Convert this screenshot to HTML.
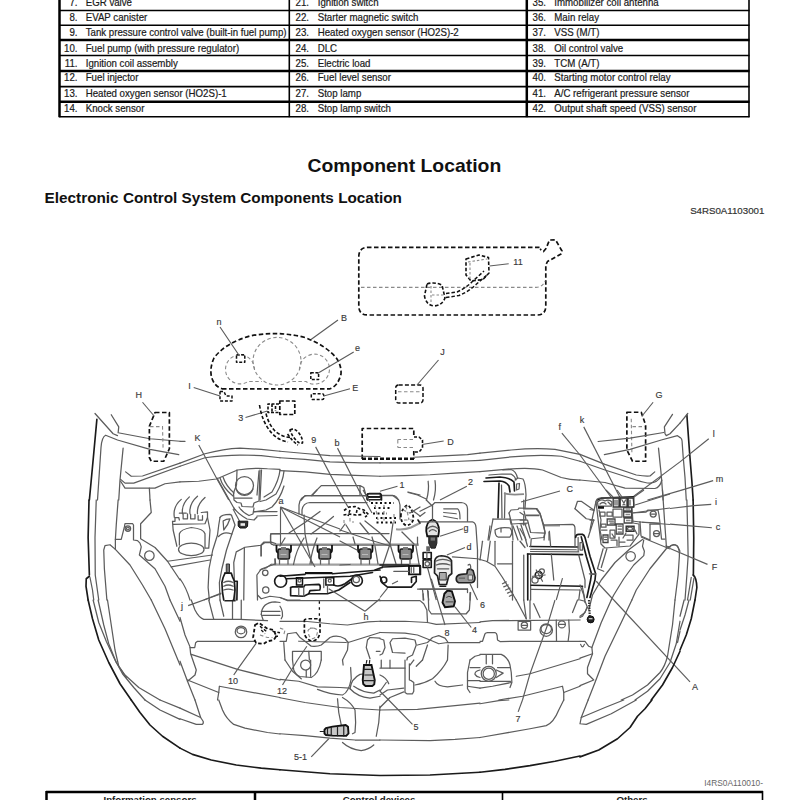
<!DOCTYPE html>
<html lang="en">
<head>
<meta charset="utf-8">
<title>Component Location</title>
<style>
html,body{margin:0;padding:0;background:#fff;}
body{width:800px;height:800px;overflow:hidden;position:relative;font-family:"Liberation Sans",sans-serif;}
svg{position:absolute;left:0;top:0;display:block;}
text{font-family:"Liberation Sans",sans-serif;fill:#1a1a1a;}
.t{font-size:10.1px;stroke:#1a1a1a;stroke-width:0.2px;transform-box:fill-box;transform-origin:0% 50%;transform:scaleX(0.96);}
.n{font-size:10.1px;text-anchor:end;stroke:#1a1a1a;stroke-width:0.2px;transform-box:fill-box;transform-origin:100% 50%;transform:scaleX(0.96);}
.tl line{stroke:#000;stroke-width:1.6;}
.tl .k{stroke-width:2.5;}
.lb{font-size:9.4px;fill:#383838;stroke:#383838;stroke-width:0.15px;text-anchor:middle;transform-box:fill-box;transform-origin:50% 50%;transform:scaleX(0.96);}
path,circle,ellipse,rect{vector-effect:non-scaling-stroke;}
.d{fill:none;stroke:#5c5c5c;stroke-width:1.25;stroke-linecap:round;stroke-linejoin:round;}
.d2{fill:none;stroke:#1a1a1a;stroke-width:1.65;stroke-linecap:round;stroke-linejoin:round;}
.ld{fill:none;stroke:#5c5c5c;stroke-width:1.15;}
.ds{fill:none;stroke:#111;stroke-width:1.7;stroke-dasharray:4.5 2.5;stroke-linejoin:round;}
.dg{fill:none;stroke:#8a8a8a;stroke-width:1.1;stroke-dasharray:3.5 2.5;}
.f{fill:#333;stroke:#222;stroke-width:0.8;}
</style>
</head>
<body>
<svg width="800" height="800" viewBox="0 0 800 800">
<!-- TOP TABLE -->
<g class="tl">
<line x1="59.5" y1="0" x2="59.5" y2="117.2" class="k"/>
<line x1="289.3" y1="0" x2="289.3" y2="117.2"/>
<line x1="526.8" y1="0" x2="526.8" y2="117.2" class="k"/>
<line x1="749" y1="0" x2="749" y2="117.2"/>
<line x1="59" y1="10.5" x2="749.5" y2="10.5"/>
<line x1="59" y1="25.3" x2="749.5" y2="25.3"/>
<line x1="59" y1="40" x2="749.5" y2="40" class="k"/>
<line x1="59" y1="55.5" x2="749.5" y2="55.5"/>
<line x1="59" y1="71" x2="749.5" y2="71" class="k"/>
<line x1="59" y1="86.6" x2="749.5" y2="86.6"/>
<line x1="59" y1="101.7" x2="749.5" y2="101.7" class="k"/>
<line x1="59" y1="116.7" x2="749.5" y2="116.7"/>
</g>
<g id="tabletext">
<text class="n" x="77.5" y="5.9">7.</text><text class="t" x="85.7" y="5.9">EGR valve</text>
<text class="n" x="77.5" y="21.4">8.</text><text class="t" x="85.7" y="21.4">EVAP canister</text>
<text class="n" x="77.5" y="36.4">9.</text><text class="t" x="85.7" y="36.4">Tank pressure control valve (built-in fuel pump)</text>
<text class="n" x="77.5" y="51.7">10.</text><text class="t" x="85.7" y="51.7">Fuel pump (with pressure regulator)</text>
<text class="n" x="77.5" y="66.7">11.</text><text class="t" x="85.7" y="66.7">Ignition coil assembly</text>
<text class="n" x="77.5" y="81.4">12.</text><text class="t" x="85.7" y="81.4">Fuel injector</text>
<text class="n" x="77.5" y="97.1">13.</text><text class="t" x="85.7" y="97.1">Heated oxygen sensor (HO2S)-1</text>
<text class="n" x="77.5" y="111.7">14.</text><text class="t" x="85.7" y="111.7">Knock sensor</text>

<text class="n" x="309" y="5.9">21.</text><text class="t" x="317.7" y="5.9">Ignition switch</text>
<text class="n" x="309" y="21.4">22.</text><text class="t" x="317.7" y="21.4">Starter magnetic switch</text>
<text class="n" x="309" y="36.4">23.</text><text class="t" x="317.7" y="36.4">Heated oxygen sensor (HO2S)-2</text>
<text class="n" x="309" y="51.7">24.</text><text class="t" x="317.7" y="51.7">DLC</text>
<text class="n" x="309" y="66.7">25.</text><text class="t" x="317.7" y="66.7">Electric load</text>
<text class="n" x="309" y="81.4">26.</text><text class="t" x="317.7" y="81.4">Fuel level sensor</text>
<text class="n" x="309" y="97.1">27.</text><text class="t" x="317.7" y="97.1">Stop lamp</text>
<text class="n" x="309" y="111.7">28.</text><text class="t" x="317.7" y="111.7">Stop lamp switch</text>

<text class="n" x="546" y="5.9">35.</text><text class="t" x="554.3" y="5.9">Immobilizer coil antenna</text>
<text class="n" x="546" y="21.4">36.</text><text class="t" x="554.3" y="21.4">Main relay</text>
<text class="n" x="546" y="36.4">37.</text><text class="t" x="554.3" y="36.4">VSS (M/T)</text>
<text class="n" x="546" y="51.7">38.</text><text class="t" x="554.3" y="51.7">Oil control valve</text>
<text class="n" x="546" y="66.7">39.</text><text class="t" x="554.3" y="66.7">TCM (A/T)</text>
<text class="n" x="546" y="81.4">40.</text><text class="t" x="554.3" y="81.4">Starting motor control relay</text>
<text class="n" x="546" y="97.1">41.</text><text class="t" x="554.3" y="97.1">A/C refrigerant pressure sensor</text>
<text class="n" x="546" y="111.7">42.</text><text class="t" x="554.3" y="111.7">Output shaft speed (VSS) sensor</text>
</g>
<!-- HEADINGS -->
<text x="404.4" y="172.3" style="font-size:18.7px;font-weight:bold;text-anchor:middle;fill:#111;transform-box:fill-box;transform-origin:50% 50%;transform:scaleX(1.037)">Component Location</text>
<text x="44.6" y="203" style="font-size:14.5px;font-weight:bold;fill:#111;transform-box:fill-box;transform-origin:0% 50%;transform:scaleX(1.057)">Electronic Control System Components Location</text>
<text x="764.3" y="214.2" style="font-size:9.7px;text-anchor:end;fill:#333;stroke:#333;stroke-width:0.2px">S4RS0A1103001</text>
<text x="763" y="785.6" style="font-size:8.35px;text-anchor:end;fill:#666">I4RS0A110010-</text>
<!-- BOTTOM TABLE -->
<g class="tl">
<line x1="46" y1="792" x2="763" y2="792" class="k"/>
<line x1="46.5" y1="791" x2="46.5" y2="800" class="k"/>
<line x1="255" y1="791" x2="255" y2="800" class="k"/>
<line x1="502.5" y1="791" x2="502.5" y2="800"/>
<line x1="762.5" y1="791" x2="762.5" y2="800"/>
</g>
<text x="150" y="802.6" style="font-size:9.7px;font-weight:bold;text-anchor:middle">Information sensors</text>
<text x="379" y="802.6" style="font-size:9.7px;font-weight:bold;text-anchor:middle">Control devices</text>
<text x="632" y="802.6" style="font-size:9.7px;font-weight:bold;text-anchor:middle">Others</text>
<!-- DIAGRAM -->
<g id="dia">
<!-- fuel tank -->
<path class="ds" d="M539.5 247.3 H368 Q358.8 247.3 358.8 257 V306 Q358.8 315 368 315 H537 Q545.8 315 545.8 306 V265 L547.5 261.5 L561 254 L562 251 L555.5 239.8 L549.5 240 L546 248.5 L543.5 251.5 L540 249"/>
<path class="dg" d="M361 287.4 H536 Q543 287 545 281"/>
<path class="ds" style="stroke-width:1.6;stroke-dasharray:3.5 2" d="M466 259 L479 255 L488.5 257.5 L489 273 L483 279.5 L471 281 L466 275 Z"/>
<path class="dg" style="stroke-dasharray:2.5 2" d="M468 262 L487 259 M470 263 V279"/>
<path class="ds" style="stroke-width:1.6;stroke-dasharray:3.5 2" d="M427 284 Q434 281.5 442 285 L445 298 Q442 305.5 434 306 Q426 305 424.5 296 Z"/>
<path class="dg" style="stroke-dasharray:2.5 2" d="M431 286 V304 M432 295 H444"/>
<path class="ds" style="stroke-width:1.5;stroke-dasharray:3.5 2" d="M446 293.5 L457 292 Q466 288 473 281 L484 271 M446 297.5 L459 295.5 Q468 292 476 284.5 L487 275"/>
<path class="ld" d="M489.5 266 L508.7 263.7"/>
<!-- J -->
<rect class="ds" style="stroke-width:1.5;stroke-dasharray:4 2.2" x="395.7" y="385" width="27.3" height="18" rx="3"/>
<path class="dg" d="M398 391.8 H421"/>
<path class="ld" d="M438.5 360 L417 385"/>
<!-- D -->
<path class="ds" d="M362.2 459 V428.5 H413.8 V437 M413.8 451 V459"/>
<path class="ds" style="stroke-width:2.4;stroke-dasharray:4 2" d="M362 458.7 H414"/>
<path class="dg" d="M397.5 439.5 H413 M397.5 447.5 H413 M397.8 440 V447"/>
<path class="ds" style="stroke-width:1.6;stroke-dasharray:3 1.8" d="M414 437 H419 L422.5 440 V448 L419 452 H414"/>
<path class="ld" d="M443.7 441 L422 444.5"/>
<!-- cluster -->
<path class="ds" d="M222 388.8 H330 Q338 386 341 374 Q341.5 366 337 359 Q327 346 305 337.5 Q277 330.5 250 336 Q225 343 214 358 Q209.5 368 211.5 377 Q214 386 222 388.8"/>
<ellipse class="dg" cx="277" cy="361.2" rx="24" ry="23.8"/>
<path class="dg" d="M254.5 370 A14.5 14.5 0 1 0 248 381.5 H262"/>
<path class="dg" d="M299.5 370 A15 15 0 1 1 306 381.5 H292"/>
<rect class="ds" style="stroke-width:1.5;stroke-dasharray:3 1.6" x="236.5" y="354.8" width="8.3" height="7.5"/>
<rect class="ds" style="stroke-width:1.5;stroke-dasharray:3 1.6" x="310.8" y="372.7" width="7.8" height="6.8"/>
<path class="ds" style="stroke-width:1.5;stroke-dasharray:3 1.8" d="M220 391.5 H224 L226 396 H232 V401 H220 Z"/>
<rect class="ds" style="stroke-width:1.5;stroke-dasharray:3 1.8" x="311.3" y="393.8" width="12.5" height="5.8" rx="1.5"/>
<path class="ld" d="M220 327 L239.5 356 M338 320 L311 339.5 M353.7 352 L317 373.7 M193.7 387.5 L220 396 M350 388.7 L323.7 396 M245.5 417.5 L267.5 411"/>
<!-- 3 -->
<rect class="ds" style="stroke-width:1.7;stroke-dasharray:4 2" x="279.8" y="401" width="15" height="13.5"/>
<path class="ds" style="stroke-width:1.6;stroke-dasharray:3 1.5" d="M279 404 H268 V412.5 H279 M272 404 V412 M275.5 406 V411"/>
<path class="ds" style="stroke-width:1.6;stroke-dasharray:3.5 2" d="M259.5 405 Q262 421 270 431 Q277 440 288 442 M266 413.5 Q268.5 424 275 431 Q281 436.5 290 437.5"/>
<path class="ds" style="stroke-width:1.6;stroke-dasharray:3 1.8" d="M290 430 Q294 427.5 298 432 Q303 438 302.5 443 Q298.5 444 295 439 Q291 434 290 430 Z M287.5 434 Q293 442 298 445"/>
<g transform="translate(0,0) scale(1.0)">
<path class="d" d="M340 533.5 H272 Q270.5 533.5 270.5 535 V542 Q270.5 544.5 273 544.5"/>
<path d="M273 544.7 H418.7" fill="none" stroke="#8a8a8a" stroke-width="2.6"/>
<path d="M271 564.6 H420" fill="none" stroke="#a0a0a0" stroke-width="2.4"/>
<path d="M276.5 545 V550 Q276.5 552.5 278.5 552.5 M291.0 545 V550 Q291.0 552.5 289.0 552.5" fill="none" stroke="#111" stroke-width="1.8"/>
<rect x="278.0" y="549" width="11.5" height="10" rx="1.5" fill="#8c8c8c" stroke="#1a1a1a" stroke-width="1.6"/>
<path d="M281.0 547 h5 v3 h-5 z" fill="#777" stroke="none"/>
<path d="M280.5 554.5 h6" fill="none" stroke="#bbb" stroke-width="1"/>
<path class="d" d="M279.5 559 V564 M288.0 559 V564"/>
<path d="M317.5 545 V550 Q317.5 552.5 319.5 552.5 M332.0 545 V550 Q332.0 552.5 330.0 552.5" fill="none" stroke="#111" stroke-width="1.8"/>
<rect x="319.0" y="549" width="11.5" height="10" rx="1.5" fill="#8c8c8c" stroke="#1a1a1a" stroke-width="1.6"/>
<path d="M322.0 547 h5 v3 h-5 z" fill="#777" stroke="none"/>
<path d="M321.5 554.5 h6" fill="none" stroke="#bbb" stroke-width="1"/>
<path class="d" d="M320.5 559 V564 M329.0 559 V564"/>
<path d="M358.0 545 V550 Q358.0 552.5 360.0 552.5 M372.5 545 V550 Q372.5 552.5 370.5 552.5" fill="none" stroke="#111" stroke-width="1.8"/>
<rect x="359.5" y="549" width="11.5" height="10" rx="1.5" fill="#8c8c8c" stroke="#1a1a1a" stroke-width="1.6"/>
<path d="M362.5 547 h5 v3 h-5 z" fill="#777" stroke="none"/>
<path d="M362.0 554.5 h6" fill="none" stroke="#bbb" stroke-width="1"/>
<path class="d" d="M361.0 559 V564 M369.5 559 V564"/>
<path d="M398.5 545 V550 Q398.5 552.5 400.5 552.5 M413.0 545 V550 Q413.0 552.5 411.0 552.5" fill="none" stroke="#111" stroke-width="1.8"/>
<rect x="400.0" y="549" width="11.5" height="10" rx="1.5" fill="#8c8c8c" stroke="#1a1a1a" stroke-width="1.6"/>
<path d="M403.0 547 h5 v3 h-5 z" fill="#777" stroke="none"/>
<path d="M402.5 554.5 h6" fill="none" stroke="#bbb" stroke-width="1"/>
<path class="d" d="M401.5 559 V564 M410.0 559 V564"/>
<path class="d2" d="M280 769.8 L330 773.8 L380 775.5 L430 775 L480 772.3"/>
</g>
<g transform="translate(150,480) scale(0.125)">
<path class="d" d="M195 300 Q180 215 250 155"/>
<path class="d" d="M260 270 Q250 195 315 135"/>
<path class="d" d="M320 270 Q310 190 380 130"/>
<path class="d" d="M380 270 Q372 200 440 140"/>
<path class="d" d="M185 330 H200 V300 H230 L235 320"/>
<path class="d" d="M235 265 H290"/>
<path class="d" d="M265 270 V310 H300 V270"/>
<path class="d" d="M325 275 V310 H360 V275"/>
<path class="d" d="M385 285 V320 H420 V285"/>
<path class="d" d="M410 260 L460 255 V300 L440 350 L185 355"/>
<path class="d" d="M180 330 L185 400 L215 530"/>
<path class="d" d="M460 300 L480 400 L470 545 H440"/>
<path class="d" d="M235 520 V430 Q245 395 330 380 Q430 390 440 430 V540"/>
<ellipse class="d" cx="330" cy="555" rx="102" ry="50"/>
<path class="d" d="M140 650 L500 600"/>
<path class="d" d="M170 695 L480 640"/>
</g>
<g transform="translate(180,400) scale(0.125)">
<path class="d" d="M0 505 L200 430 Q350 390 480 385 L650 395 L800 410"/>
<path class="d" d="M0 530 L200 462 Q350 440 480 440 L650 445 L800 462"/>
<path class="d" d="M0 655 L150 650 L290 632 L320 620 L460 560 Q600 540 700 550 L800 555"/>
<path class="ld" d="M150 360 L300 640 L390 800"/>
<path class="d" d="M0 330 L40 330"/>
</g>
<g transform="translate(180,500) scale(0.125)">
<path class="d" d="M320 140 L310 200 L300 280 L262 400 L232 550 L225 700 L235 800"/>
<path class="d" d="M415 272 L372 400 L335 550 L315 660 L320 800"/>
<path class="d" d="M320 140 Q330 118 400 115 L412 122"/>
<path class="d" d="M345 168 L350 240 Q385 200 400 150 Q370 150 345 168"/>
<path class="d" d="M308 292 Q350 245 412 272"/>
<path class="d" d="M412 122 L440 200 L415 272"/>
<path class="d" d="M440 800 L430 500 L450 415 L520 378 L650 362 L680 340 H740"/>
<path class="d" d="M515 380 L510 800"/>
<path class="d" d="M650 362 V445"/>
<path class="d" d="M725 335 V270 H800"/>
<path class="d" d="M725 335 L765 348"/>
<path class="d" d="M760 470 L765 510"/>
<path class="d" d="M620 800 L615 600 L650 552 L760 512"/>
<circle class="d" cx="682" cy="582" r="22"/>
<circle class="d" cx="686" cy="720" r="25"/>
<circle class="d2" cx="805" cy="650" r="48"/>
<path d="M370 512 H396 V580 H370 Z" fill="#777" stroke="#333"/>
<path class="d2" d="M360 585 H410 L420 615 L435 650 L440 720 L430 800"/>
<path class="d2" d="M360 585 L345 620 L335 660 L340 740 L350 800"/>
<path class="d" d="M350 660 Q385 640 425 660 M350 690 Q385 670 425 690 M350 720 Q385 705 425 720"/>
<path class="d2" d="M440 650 H458 L455 800"/>
<path class="ld" d="M330 745 L190 800"/>
<path class="d" d="M0 630 Q50 700 80 800"/>
</g>
<g transform="translate(180,600) scale(0.125)">
<path class="ld" d="M65 45 L330 -50"/>
<path class="d" d="M0 140 L40 280 L80 375"/>
<path class="d" d="M80 380 H118 L125 342 L140 330 H600"/>
<path class="d" d="M80 380 L85 430 L130 560 L120 600 L60 650"/>
<path class="d" d="M0 490 L60 650 L120 800"/>
<path class="d" d="M90 435 L460 555 L800 640"/>
<path class="d" d="M60 640 L310 740"/>
<path class="d" d="M300 800 L310 740 L315 690 L800 780"/>
<path class="ld" d="M430 600 L460 555 L610 345"/>
<path class="d" d="M90 0 L120 80 Q150 140 190 155 H480 L700 165"/>
<path class="d" d="M230 0 L270 155"/>
<path class="d" d="M320 0 L350 130"/>
<path class="d" d="M420 0 V155"/>
<path class="d" d="M490 0 V155"/>
<path class="d" d="M650 115 Q655 20 760 15 L800 20"/>
<path class="d" d="M650 90 H800"/>
<path class="d" d="M660 122 H800"/>
<path class="d" d="M650 115 L665 160"/>
<circle class="d" cx="488" cy="255" r="46"/>
<ellipse class="d" cx="488" cy="245" rx="32" ry="25"/>
<path class="ds" style="stroke-width:1.8;stroke-dasharray:3.5 2.2" d="M600 200 L630 182 L700 230 L750 240 L770 290 L750 320 L700 330 L670 350 L610 345 L585 300 Z"/>
<path class="ds" style="stroke-width:1.4;stroke-dasharray:3 2" d="M640 210 L690 250 M650 240 L680 270 M740 250 L800 262 M760 290 L800 290"/>
<path class="dg" d="M640 280 L700 300 L740 300"/>
<path d="M355 0 H445 V12 H355 Z" fill="#222" stroke="none"/>
</g>
<g transform="translate(180,700) scale(0.125)">
<path class="d2" d="M0 385 L100 435 L250 480 L450 520 L650 545 L800 558"/>
<path class="d" d="M0 65 L165 140"/>
<path class="d" d="M0 150 L130 195 H178 Q190 190 185 170 L165 140 L120 0"/>
<path class="d" d="M310 0 L340 80 Q370 150 430 195 L520 225 L700 260 L800 272"/>
</g>
<g transform="translate(200,540) scale(0.125)">
<path class="d" d="M460 440 L490 470 L560 450 L640 460 L700 480 L800 480"/>
</g>
<g transform="translate(210,460) scale(0.1)">
<path class="ld" d="M230 490 L300 620"/>
<path class="d" d="M270 100 L265 250 L235 330 L240 400 L270 425 L310 430 L320 465 L430 470 L440 430 L490 410 L500 100"/>
<path class="d" d="M490 110 L470 350"/>
<path class="d" d="M515 100 L500 400"/>
<circle class="d" cx="345" cy="255" r="90"/>
<path class="d" d="M262 290 Q280 350 345 355 Q410 350 430 290"/>
<path class="d" d="M245 380 H420"/>
<path class="d" d="M700 100 Q690 200 620 320 L540 370"/>
<path class="d" d="M740 110 Q730 220 660 340 L560 400 L500 415"/>
<path class="d" d="M740 260 Q700 390 620 470 L560 500 L440 520"/>
<path class="d" d="M440 515 H670"/>
<path class="d" d="M470 560 L670 555"/>
<path class="d" d="M100 180 Q130 280 230 360"/>
<path class="d" d="M130 170 Q160 260 240 330"/>
<path class="d" d="M290 470 Q320 520 390 555 L430 540 L440 480"/>
<path class="d" d="M240 480 Q280 540 370 590 L440 600 L470 570"/>
<path d="M282 612 H378 L375 665 L355 680 H300 L282 660 Z" fill="#333" stroke="#111" stroke-width="1"/>
<path d="M305 632 H350 V658 H305 Z" fill="#eee" stroke="none"/>
<path class="d" d="M70 180 L250 500"/>
</g>
<g transform="translate(260,490) scale(0.1)">
<path class="ld" d="M205 170 V560"/>
<path class="ld" d="M205 170 L550 770"/>
<path class="ld" d="M205 170 L800 390"/>
<path class="ld" d="M205 170 L800 470"/>
<path class="d" d="M390 240 V150 Q400 60 480 55 H800"/>
<path class="d" d="M420 250 V200 Q430 130 500 125 H800"/>
<path class="d" d="M520 55 L570 0"/>
<path class="d" d="M600 215 Q450 330 290 430"/>
<path class="d" d="M735 265 Q600 380 510 440"/>
<path class="d" d="M250 480 L200 560"/>
<path class="d" d="M440 480 Q360 600 335 745"/>
<path class="d" d="M570 480 Q520 600 500 740"/>
<path class="d" d="M440 250 L450 440 L470 540 L520 740"/>
<path class="d" d="M105 520 H40 L10 550 V660"/>
<path class="d" d="M110 745 L60 780 L0 800"/>
<path class="d" d="M150 690 V745"/>
</g>
<g transform="translate(280,400) scale(0.125)">
<path class="d" d="M0 410 L200 428 L400 445 L650 450 L800 452"/>
<path class="d" d="M0 462 L200 475 L400 495 L650 503 L800 503"/>
<path class="d" d="M0 565 L200 575 L400 595 L600 603 L800 610"/>
<path class="ld" d="M285 375 L510 800"/>
<path class="ld" d="M460 385 L640 740"/>
<path class="d" d="M170 800 L200 765 H690"/>
<path class="d" d="M250 765 L330 685 H640 L670 700 L690 770"/>
<path class="d" d="M640 690 V760"/>
<path class="d2" d="M700 800 V760 Q700 748 715 748 H800"/>
<path class="d2" d="M705 775 H800"/>
</g>
<g transform="translate(280,560) scale(0.125)">
<path d="M200 105 H420" fill="none" stroke="#111" stroke-width="2.2"/>
<path class="d2" d="M0 130 L200 115 M420 110 L800 80"/>
<path class="d2" d="M50 150 L560 130 L740 100"/>
<circle class="d2" cx="615" cy="165" r="44"/>
<circle class="d" cx="610" cy="155" r="25"/>
<path d="M132 142 H180 V200 H132 Z M367 142 H430 V200 H367 Z" fill="none" stroke="#111" stroke-width="1.5"/>
<circle class="d" cx="156" cy="165" r="12"/>
<circle class="d" cx="398" cy="165" r="12"/>
<path class="d2" d="M85 220 V285 L190 290 L230 270 H380 L470 240 L560 180"/>
<path class="d2" d="M85 220 L100 215 H190 L200 200 L310 195 Q325 200 322 225 L318 240 L240 245 L230 270"/>
<path class="d" d="M150 220 V285 M190 215 V290"/>
<path class="d2" d="M430 200 Q470 220 520 190 L575 150"/>
<path class="d" d="M350 150 V220 M380 200 V260"/>
<path class="ld" d="M680 410 L390 230"/>
<path class="ld" d="M680 410 L800 310"/>
<path class="d" d="M0 300 L60 325 H800"/>
<path class="d" d="M0 490 H200 L400 510 L540 520 L700 495 L800 490"/>
<path class="ds" style="stroke-width:1.3;stroke-dasharray:2.5 3.5" d="M315 330 V490"/>
<path class="ds" style="stroke-width:1.7;stroke-dasharray:3.5 2" d="M195 490 Q190 470 230 470 H320 V580 Q310 640 260 650 Q210 640 195 590 Z"/>
<path class="dg" style="stroke-width:1.2" d="M225 560 Q260 530 300 560 Q300 620 260 630 Q225 620 225 560 M240 545 H285"/>
<path class="dg" d="M0 545 L40 560 L30 600"/>
<path class="d" d="M0 370 Q22 400 20 450 L10 470"/>
<path class="d" d="M0 650 H50 L60 590 L130 580 L160 620 L200 650 L250 690 Q300 695 330 680 L400 620 Q460 595 520 630 L545 660 L800 580"/>
<path class="d" d="M150 650 L530 660"/>
<path class="d" d="M30 660 L40 800"/>
<path class="d" d="M100 800 V730 H330 V800"/>
<path class="d" d="M230 730 L235 800"/>
<path class="d" d="M545 660 L540 720 L500 800"/>
<path class="ld" d="M215 690 L140 800"/>
<path class="d" d="M720 790 L690 700 L700 640 L720 620 L800 625"/>
<path class="d" d="M770 730 H800"/>
</g>
<g transform="translate(280,660) scale(0.125)">
<path class="ld" d="M140 0 L20 200"/>
<circle class="d" cx="205" cy="40" r="40"/>
<path class="d" d="M100 0 L110 80 Q130 125 160 132 L250 140 Q310 110 330 0"/>
<path class="d" d="M210 80 V135"/>
<path class="d" d="M245 0 V130"/>
<path class="d" d="M40 0 L100 90 L170 150"/>
<path class="d" d="M0 155 L150 170 L300 215 L480 220 L560 225"/>
<path class="d" d="M0 302 L200 340 L480 380 L800 400"/>
<path class="d" d="M0 590 L200 605 L400 625 L600 640 H800"/>
<path class="d" d="M460 310 L470 420 L490 520"/>
<path class="d" d="M500 300 Q570 340 600 400 L605 500 L600 580 L580 590"/>
<path class="d" d="M300 235 Q400 275 500 280 Q550 260 570 150 L565 60"/>
<path class="d" d="M500 0 L505 40"/>
<path class="d" d="M560 230 Q570 150 640 115 L680 110"/>
<path class="d" d="M560 230 Q620 295 720 305 L800 290"/>
<path class="d" d="M590 210 Q660 260 750 265 L800 240"/>
<path d="M672 40 H732 L758 160 L754 195 L738 208 H684 L666 192 L662 160 Z" fill="#c8c8c8" stroke="#111" stroke-width="1.9"/>
<path d="M670 75 H740 M675 120 H750 M665 165 H760 M690 30 L695 0 M715 30 L718 0" fill="none" stroke="#222" stroke-width="1.2"/>
<path d="M356 558 L368 545 L420 533 L525 520 L544 534 L548 588 L530 607 L420 605 L368 600 L356 588 Z" fill="#c8c8c8" stroke="#111" stroke-width="1.9"/>
<path d="M380 540 V605 M410 535 V608 M460 530 V610 M510 525 V612 M352 572 H318" fill="none" stroke="#222" stroke-width="1.2"/>
<path class="ld" d="M250 775 L390 630"/>
<path class="d" d="M500 660 Q560 715 650 725 Q710 715 750 680"/>
<path class="d" d="M800 370 L790 500 L770 610"/>
</g>
<g transform="translate(340,490) scale(0.1)">
<rect x="268" y="38" width="145" height="60" rx="18" fill="none" stroke="#222" stroke-width="1.4"/>
<path class="d2" d="M285 68 H400"/>
<path class="d" d="M0 55 H262"/>
<path class="d" d="M418 55 H540 Q585 70 600 150 V290"/>
<path class="d" d="M0 125 H270"/>
<path class="ds" style="stroke-width:1.6;stroke-dasharray:3 2" d="M40 205 L90 170 L150 165 L200 190 L240 200 L285 245 L250 270 M35 250 L90 240 L160 250 L230 245 M100 200 L80 260 M170 200 L160 250 M230 215 L260 250"/>
<path class="dg" d="M100 280 V320 H140 M40 300 V330"/>
<path class="ds" style="stroke-width:2;stroke-dasharray:2 2.5" d="M310 130 H540 M340 180 H520 M330 235 H470 M360 280 H560 M365 325 H560"/>
<path class="dg" style="stroke-width:1.2" d="M440 150 V330 M540 240 V330 M350 150 L380 300"/>
<path class="ds" style="stroke-width:1.8;stroke-dasharray:3 2" d="M610 240 Q600 320 660 355 Q720 350 735 290 Q730 200 680 150 Q630 170 610 240 Z"/>
<path class="dg" style="stroke-width:1.2" d="M630 200 L700 230 M640 300 H720 M660 160 L690 300"/>
<path class="ld" d="M0 30 L80 170"/>
<path class="ld" d="M190 0 L320 230"/>
<path class="ld" d="M230 0 L300 120"/>
<path class="d" d="M0 400 L300 500 L500 560"/>
<path class="d" d="M0 510 L170 600"/>
<path class="d" d="M530 330 L500 540 L420 780"/>
<path class="d" d="M620 420 L740 540"/>
<path class="d" d="M200 330 L290 440"/>
<path class="d" d="M250 310 L400 430 L500 540 L560 740"/>
<path class="d" d="M50 340 L0 410"/>
<path class="d" d="M60 350 L110 430"/>
<path class="d" d="M0 435 H490"/>
<path class="d" d="M775 470 V540"/>
<path class="d" d="M130 470 L150 540"/>
<path class="d" d="M320 470 L340 540"/>
<path class="d" d="M350 560 L380 740"/>
<path class="d" d="M760 560 L790 740"/>
<path d="M560 392 Q650 400 710 375 L800 330" fill="none" stroke="#999" stroke-width="2"/>
<path class="d" d="M700 230 L800 170"/>
<path class="d" d="M720 200 L800 260"/>
<path class="d" d="M680 20 L800 50"/>
<path class="d2" d="M780 300 L800 330"/>
<path class="d2" d="M350 800 L430 770 L700 760 L800 755"/>
<path class="d" d="M0 750 L100 745"/>
</g>
<g transform="translate(380,400) scale(0.125)">
<path class="d" d="M270 458 L500 447 L700 437 L800 425"/>
<path class="d" d="M0 503 L300 503 L600 492 L800 483"/>
<path class="d" d="M0 610 L200 605 L400 598 L600 585 L800 573"/>
<path class="ld" d="M140 690 L0 730"/>
<path class="ld" d="M695 690 L480 800"/>
<path class="d" d="M385 650 Q395 720 372 800"/>
<path class="d" d="M440 645 Q452 720 428 800"/>
<path class="d" d="M225 740 L300 760 L370 792"/>
<path class="d" d="M0 762 H100 L150 800"/>
<path class="d2" d="M0 748 Q15 760 12 800"/>
</g>
<g transform="translate(380,560) scale(0.125)">
<path class="d2" d="M0 40 H230"/>
<path d="M232 47 H320 V115 H232 Z" fill="none" stroke="#111" stroke-width="1.8"/>
<path class="d" d="M250 60 V100 M270 60 V100"/>
<path class="d" d="M110 90 H230"/>
<path class="d2" d="M0 130 L20 185 L60 217 H250 L290 172 V130 L252 140 V180"/>
<circle class="d2" cx="30" cy="160" r="24"/>
<path class="d" d="M100 190 L140 170"/>
<path class="ld" d="M60 225 L0 300"/>
<path d="M515 270 L540 245 L575 250 L600 330 L590 370 L520 377 L500 340 Z" fill="#aaa" stroke="#111" stroke-width="1.9"/>
<path d="M530 300 Q550 280 575 300 M525 335 H590" fill="none" stroke="#444" stroke-width="1"/>
<path class="d" d="M300 232 H700"/>
<path class="d" d="M385 250 L390 400 L410 430 H690 L715 400 L725 260"/>
<path class="ld" d="M410 150 L520 520"/>
<path class="ld" d="M600 375 L730 540"/>
<path class="d" d="M0 325 H320 L350 350 L375 400 L380 500"/>
<path class="d" d="M345 270 V320"/>
<path class="d" d="M0 490 H200 L380 500 L450 515 L800 500"/>
<path class="d" d="M0 580 L200 585 L300 600 L400 640 L470 670 L540 660 H800"/>
<path class="d" d="M300 680 L380 660 L420 620 L470 605 L520 625 L545 660"/>
<path class="d" d="M380 680 L340 800"/>
<path class="d" d="M545 680 L540 800"/>
<path class="d" d="M0 630 L30 640 L40 700 L20 750 L0 760"/>
<path class="d" d="M215 800 L220 780 L260 760 L290 680 L280 640 L200 625 L100 630 L80 660 L90 700 L100 740 L200 745"/>
<path class="d" d="M720 800 L760 770 L800 760"/>
</g>
<g transform="translate(380,660) scale(0.125)">
<path class="ld" d="M260 515 L60 310 L0 250"/>
<path class="d" d="M0 400 L300 395 L500 375 L800 345"/>
<path class="d" d="M0 640 L400 645 L600 635 L800 620"/>
<path class="d" d="M0 65 H200"/>
<path class="d" d="M200 0 V260 L215 270 H260 L270 250 V180 L250 165 L235 160 V30"/>
<path class="d" d="M10 0 V60"/>
<path class="d" d="M80 0 V65"/>
<path class="d" d="M540 0 Q500 80 420 150 Q350 190 280 200"/>
<path class="d" d="M340 0 L290 50"/>
<path class="d" d="M240 40 L270 0"/>
<path class="d" d="M440 170 Q460 210 540 215 L660 200"/>
<path class="d" d="M0 120 Q50 140 70 190"/>
<path class="d" d="M50 180 L0 250"/>
<path class="d" d="M0 280 L60 240 L190 225"/>
<path class="d" d="M0 380 L80 300 L190 255"/>
<path class="d" d="M720 0 L700 100 V230 L720 260"/>
<path class="d" d="M720 60 H800"/>
<path class="d" d="M700 165 H800"/>
<path class="d" d="M700 210 L800 225"/>
<path class="d" d="M800 80 Q755 90 760 115 Q770 135 800 140"/>
</g>
<g transform="translate(420,500) scale(0.125)">
<path class="ld" d="M345 230 L160 290"/>
<path class="ld" d="M360 380 L215 440"/>
<path d="M50 250 Q46 175 100 156 Q154 175 152 250 L146 290 H58 Z" fill="#e4e4e4" stroke="#111" stroke-width="1.8"/>
<path class="d" d="M60 230 Q100 190 145 230"/>
<path class="d" d="M75 250 Q100 225 130 250"/>
<path d="M70 292 H135 V345 L122 385 H88 L70 345 Z" fill="#333" stroke="#222"/>
<path d="M85 300 H120 V325 H85 Z" fill="#777" stroke="none"/>
<path d="M50 370 H80 V410 H50 Z" fill="#666" stroke="none"/>
<path class="d2" d="M25 420 H90 V470 H25 Z M25 480 H90 V540 H25 Z"/>
<path class="d" d="M55 420 V470"/>
<circle class="d" cx="58" cy="510" r="18"/>
<path d="M0 530 H10 V600 H0 Z" fill="#222" stroke="none"/>
<path d="M118 485 Q125 448 172 446 Q235 450 252 485 L254 588 L230 608 L212 676 H154 L140 608 L116 584 Z" fill="#eee" stroke="#222" stroke-width="1.7"/>
<path class="d" d="M125 490 Q180 460 245 490"/>
<path class="d" d="M130 520 Q180 500 240 520"/>
<path class="d" d="M140 550 H230"/>
<path d="M155 580 H210 V640 H155 Z" fill="#aaa" stroke="#333"/>
<path class="d2" d="M160 690 H205"/>
<path d="M290 630 Q290 600 330 595 L375 590 L380 560 Q400 545 425 565 L440 620 Q440 660 410 662 H310 Q290 655 290 630 Z" fill="#999" stroke="#222" stroke-width="1.7"/>
<path d="M310 625 H360 M385 600 H420 V640 H385 Z" fill="#ddd" stroke="#555"/>
<path class="d" d="M385 520 Q400 505 405 530 V555"/>
<path class="d" d="M100 170 V40 L120 20 H330 Q380 25 380 70 V170"/>
<path class="d" d="M190 70 H300 Q320 80 320 150"/>
<path class="d" d="M190 100 L290 110"/>
<path class="d" d="M190 130 L300 150"/>
<path class="d" d="M0 175 H420 Q445 180 448 220 L460 400 V700"/>
<path class="d" d="M260 455 L460 470 L530 490 L600 530 L660 620 L740 750 L770 800"/>
<path class="d" d="M0 712 H380"/>
<path class="d" d="M660 670 L690 655 M670 695 L705 680 M685 720 L720 705 M700 745 L735 730 M715 770 L745 755"/>
<path class="ld" d="M60 540 L130 800"/>
<path class="ld" d="M400 670 L460 800"/>
<path class="d" d="M50 0 L100 50"/>
<path class="d" d="M0 90 L100 40"/>
<path class="d" d="M0 130 L40 100"/>
<path class="d" d="M20 720 L30 800 M60 720 L70 800 M380 712 V740 M400 740 V800"/>
<path class="d" d="M600 330 V520"/>
<path class="d" d="M740 330 V800"/>
<path class="d" d="M540 490 L562 330"/>
<path class="d" d="M620 510 H740"/>
<path class="d" d="M500 330 L480 480"/>
</g>
<g transform="translate(480,400) scale(0.125)">
<path class="d" d="M0 425 L250 400 Q450 380 600 395 L800 435"/>
<path class="d" d="M0 483 L250 455 Q480 432 650 450 L800 490"/>
<path class="d" d="M0 573 L200 555 Q400 535 500 560 L650 620 Q720 640 800 640"/>
<path class="ld" d="M655 265 L800 440"/>
</g>
<g transform="translate(480,460) scale(0.1)">
<path class="d2" d="M40 215 L200 210 Q260 215 290 260 L300 320"/>
<path class="d2" d="M60 180 L200 170 Q300 175 340 220 L345 310"/>
<path class="d" d="M90 150 L220 140 H310 Q350 160 360 200"/>
<path class="d" d="M230 100 L310 95 Q360 110 375 180"/>
<path class="d2" d="M190 230 L180 580"/>
<path class="d" d="M215 250 L220 580"/>
<path class="d" d="M250 330 L245 580"/>
<path class="d" d="M350 200 L380 180 L430 190 Q455 230 460 350 L450 480"/>
<path class="d" d="M365 240 L395 235 L390 290 L365 300 Z"/>
<path d="M240 332 Q300 355 440 342" fill="none" stroke="#888" stroke-width="1.8"/>
<path class="ld" d="M800 310 L410 420"/>
<path class="d" d="M290 530 L310 500 L380 495 L390 480 L570 485 L600 530 L650 720 L640 800"/>
<path class="d" d="M310 600 L460 595 L440 510"/>
<path class="d" d="M460 550 H590"/>
<path class="d" d="M290 530 L320 650 L330 800"/>
<path class="d" d="M320 640 L480 630"/>
<path class="d" d="M330 660 L380 800 M370 660 L420 800 M410 650 L460 800 M450 640 L500 780"/>
<path class="d" d="M130 590 H300"/>
<path class="d" d="M130 590 L110 700 L90 800"/>
<path class="d" d="M150 700 Q200 665 300 680 Q335 720 300 770 H180 Q150 760 150 700 Z"/>
<path class="d" d="M210 680 V720"/>
<path class="d" d="M300 590 L310 640"/>
<path class="d" d="M80 800 L100 660"/>
<path d="M640 655 H800" fill="none" stroke="#999" stroke-width="2"/>
<path class="d" d="M690 720 V800"/>
</g>
<g transform="translate(480,600) scale(0.125)">
<path class="d" d="M0 175 L100 165 L800 160"/>
<path class="d" d="M0 330 H20 L40 270 Q45 260 60 260 H120 Q135 265 137 285 L140 320 L160 332 L800 330"/>
<path class="d" d="M305 170 H405 V240 H305 Z"/>
<circle class="d" cx="355" cy="202" r="25"/>
<path class="d" d="M335 202 H375"/>
<circle class="d" cx="530" cy="240" r="50"/>
<ellipse class="d" cx="530" cy="232" rx="42" ry="36"/>
<path class="ld" d="M600 0 L540 200 L400 590 L340 800"/>
<path class="d" d="M610 160 L612 330"/>
<path class="d" d="M710 160 L715 250 L705 330"/>
<circle class="d" cx="655" cy="195" r="28"/>
<path class="d" d="M630 195 H680"/>
<path class="d" d="M0 435 H170 Q225 460 240 520 L250 580 L255 660 L240 700"/>
<path class="d" d="M50 440 V510"/>
<path class="d" d="M100 440 V510"/>
<path class="d" d="M140 540 H240"/>
<circle class="d" cx="70" cy="590" r="60"/>
<circle class="d" cx="70" cy="590" r="45"/>
<path class="d" d="M130 560 L185 585 L130 620"/>
<path class="d" d="M0 650 H245"/>
<path class="d" d="M0 705 L100 690 L250 660"/>
<path class="d" d="M290 610 L400 590 L800 470"/>
<path class="d" d="M150 800 L340 770 L660 690 L670 740 V800"/>
<path class="d" d="M670 740 L800 690"/>
<path class="d" d="M290 0 L370 150"/>
<path class="d" d="M350 0 L370 150"/>
<path class="d" d="M400 0 V150"/>
<path class="d" d="M430 30 L480 140"/>
<path class="d" d="M740 100 L780 0"/>
</g>
<g transform="translate(480,700) scale(0.125)">
<path class="ld" d="M340 0 L305 95"/>
<path class="d" d="M0 300 L200 265 L400 230 L530 205 Q590 180 630 80 L670 0"/>
<path class="d" d="M0 30 L150 5 L230 0"/>
<path class="d2" d="M0 578 L200 555 L400 525 L600 490 L800 448"/>
</g>
<g transform="translate(520,500) scale(0.125)">
<path class="d2" d="M80 372 L460 376"/>
<path class="d" d="M85 395 L450 398"/>
<path class="d" d="M85 412 L470 415"/>
<path class="d2" d="M60 432 L500 437"/>
<path class="d2" d="M62 432 V800"/>
<path class="d" d="M85 440 V800"/>
<path class="d2" d="M90 682 L500 690"/>
<path class="d" d="M90 715 L480 720"/>
<path class="d" d="M30 440 V800"/>
<path class="d" d="M190 200 L420 195 Q440 200 440 230 V370"/>
<path class="d" d="M190 200 L200 260 L190 300 L90 310 L85 370"/>
<path class="d" d="M30 70 H130 L160 110 L190 200"/>
<path class="d" d="M50 125 H150"/>
<path class="d" d="M0 160 H60 L70 200 L85 260 L200 265"/>
<path class="d" d="M0 190 H50"/>
<path class="d" d="M30 0 V70"/>
<path class="d" d="M0 100 L30 120 V200"/>
<path class="d" d="M0 230 L40 300 L60 370"/>
<path class="d" d="M0 330 L40 380"/>
<path class="d2" d="M445 300 Q445 275 470 275 H500 Q515 280 520 300 L560 450 L605 590 L600 640 L560 780"/>
<path class="d2" d="M490 295 L530 450 L572 590 L565 640 L535 780"/>
<path class="d" d="M465 300 V410"/>
<path class="d" d="M480 340 H500 V400 H480 Z"/>
<path class="d" d="M470 440 L520 640 V700"/>
<path class="d" d="M235 250 L245 370"/>
<path class="d" d="M250 430 L270 640"/>
<path class="ld" d="M340 625 L290 800"/>
<path class="d" d="M570 595 H600"/>
<path class="d" d="M480 720 L470 800"/>
<path class="d" d="M500 700 L520 800"/>
<circle class="d2" cx="150" cy="600" r="28"/>
<circle class="d" cx="120" cy="640" r="25"/>
<circle class="d" cx="175" cy="570" r="20"/>
<path class="d" d="M100 610 L200 600 M130 560 L180 650"/>
<path class="d" d="M440 70 L460 10 H490 L590 80"/>
<path class="d" d="M440 70 L530 150 L590 160"/>
<path class="d" d="M590 160 L545 300"/>
</g>
<g transform="translate(580,400) scale(0.125)">
<path class="ds" d="M375 98 H490 L525 200 V490 H420 L375 400 Z"/>
<path class="dg" d="M410 150 L415 420"/>
<path class="dg" d="M420 213 H520"/>
<path class="ld" d="M585 18 L495 130"/>
<path class="d" d="M145 332 L400 305 L670 260"/>
<path class="d" d="M195 437 L400 395 L650 320 L780 285 L800 300"/>
<path class="d" d="M740 115 L675 215 L680 270 L690 285 L720 270 L800 185"/>
<path class="d" d="M0 435 L200 515 L450 600 Q520 612 560 608 L598 575"/>
<path class="d" d="M0 490 L200 560 L450 640 Q520 665 560 665 Q620 660 650 610"/>
<path class="d" d="M0 640 L200 660 L360 705 L600 708 Q640 700 655 640"/>
<path class="d" d="M628 385 L650 600 L665 800"/>
<path class="ld" d="M800 495 L430 770"/>
<path class="ld" d="M800 725 L540 800"/>
<path class="ld" d="M30 215 L330 800"/>
<path class="ld" d="M0 440 L250 780"/>
<path class="d2" d="M140 800 L170 785 L430 775"/>
</g>
<g transform="translate(580,530) scale(0.125)">
<path class="d" d="M70 640 L100 520 L170 400 L280 260 L400 150 L500 75"/>
<path class="d" d="M250 560 L270 520 L350 390 L430 280 L510 205 L515 170 L500 130 L510 80"/>
<path class="d" d="M415 560 L450 480 L560 310 L690 150 L720 130 Q750 105 780 130 L800 170"/>
<path class="ld" d="M130 410 L270 560"/>
<circle class="d" cx="405" cy="210" r="38"/>
<path class="d" d="M185 150 L140 310 L190 330"/>
<path class="d" d="M215 150 L170 300"/>
<path class="d" d="M0 440 L30 520 L40 580"/>
<path class="d" d="M0 560 L40 570 L60 620 L20 690 L0 700"/>
<path class="d" d="M75 350 H125"/>
</g>
<g transform="translate(580,600) scale(0.125)">
<path class="ld" d="M270 0 L880 655"/>
<path class="d" d="M250 0 L170 180 L95 380"/>
<path class="d" d="M0 330 H40 L70 370 L95 380 L100 430 L0 465"/>
<path class="d" d="M100 430 L60 540 V590 L110 640 L0 685"/>
<path class="d" d="M415 0 L330 180 L200 450 L120 660 L65 800"/>
<path class="d" d="M760 0 L740 200 L700 450 Q680 530 640 580 L540 680 L420 760 L330 800"/>
<path class="d" d="M800 170 L770 350 L720 500 L640 630 L540 730 L440 800"/>
<path class="d2" d="M800 410 L740 540 L660 680 L570 800"/>
<path class="d" d="M800 250 L780 340"/>
<circle cx="85" cy="155" r="28" fill="#222" stroke="#111"/>
<path d="M70 150 H100" stroke="#fff" stroke-width="1" fill="none"/>
<path d="M72 0 L78 130" fill="none" stroke="#333" stroke-width="2.2" stroke-dasharray="1.5 1"/>
<path class="d" d="M0 130 L40 100 L55 60"/>
<path class="d" d="M5 355 Q20 395 35 355"/>
</g>
<g transform="translate(580,700) scale(0.125)">
<path class="d2" d="M0 455 L150 400 L300 310 L400 220 L460 130 L520 70 L575 0"/>
<path class="d" d="M65 0 L10 140 L0 190 L50 195 L250 110 L450 0"/>
<path class="d" d="M10 140 L200 60 L350 0"/>
</g>
<g transform="translate(590,490) scale(0.1)">
<path class="d" d="M60 115 Q65 85 95 80 L430 75 L440 160 L420 180 L430 330 L490 340 V440 L400 560 L150 580 L110 540 Z"/>
<path d="M232 82 H290 V170 H232 Z M302 82 H370 V170 H302 Z M382 82 H438 V170 H382 Z" fill="none" stroke="#333" stroke-width="1.3"/>
<path class="d" d="M250 100 V150 M270 100 V150 M320 100 L350 150 M330 150 L355 100 M400 100 V150"/>
<path class="d" d="M75 120 Q110 85 150 110 Q190 90 220 120 L215 160 H80 Z"/>
<path class="d" d="M100 140 Q130 110 160 140 M180 120 L210 150"/>
<path d="M80 175 H140" fill="none" stroke="#111" stroke-width="2.5"/>
<path d="M337 177 H415 V210 H337 Z M337 222 H415 V270 H337 Z M342 282 H420 V330 H342 Z" fill="none" stroke="#444" stroke-width="1.3"/>
<path d="M355 190 H400 M355 245 H400 M360 305 H405" fill="none" stroke="#888" stroke-width="1.5"/>
<path class="d" d="M100 222 H150 V262 H100 Z M170 222 H222 V262 H170 Z"/>
<path d="M172 290 H250 V350 H172 Z M262 340 H330 V440 H262 Z" fill="none" stroke="#444" stroke-width="1.3"/>
<path class="d" d="M190 310 H235 M200 330 H240 M280 360 H315 M280 390 H315 M280 420 H315"/>
<path class="d" d="M112 340 H160 V372 H112 Z M115 400 H170"/>
<path d="M130 450 H180 V525 H130 Z" fill="none" stroke="#444" stroke-width="1.3"/>
<path class="d" d="M145 470 H170 M145 495 H170"/>
<path d="M362 362 H440 V412 H362 Z" fill="none" stroke="#333" stroke-width="1.5"/>
<ellipse class="d" cx="400" cy="387" rx="25" ry="15"/>
<path class="d" d="M200 400 H250 V480 H200 Z M210 500 H270 V555 M290 470 V560 M300 520 H350 M350 450 H430 V500 H370 M220 440 L240 470 M360 430 L330 480 M450 400 L470 440"/>
<path class="d" d="M230 190 H320 V270 H230 Z"/>
<path class="d" d="M90 200 L110 300 L100 400 L120 500"/>
<circle class="d" cx="632" cy="240" r="30"/>
<path class="d" d="M605 240 H660"/>
<circle class="d" cx="665" cy="435" r="30"/>
<path class="d" d="M638 435 H692"/>
<path class="d" d="M420 230 L560 222 L580 200 H680 L690 250 L700 330"/>
<path class="d" d="M500 320 L690 330"/>
<path class="d" d="M500 320 L510 460 L600 500 V340"/>
<path class="d" d="M600 340 H700 L715 490 H750"/>
<path class="d" d="M420 310 L500 320"/>
<path class="d" d="M725 0 L745 300 L765 580"/>
<path class="ld" d="M540 0 L440 70"/>
<path class="ld" d="M800 40 L450 150"/>
<path class="ld" d="M800 180 L420 230"/>
<path class="ld" d="M800 345 L520 322"/>
<path class="ld" d="M800 590 L510 470"/>
<path class="ld" d="M160 0 L230 70"/>
<path class="ld" d="M270 0 L320 70"/>
<path class="d" d="M0 195 L40 205"/>
<path class="d" d="M0 300 L40 300"/>
<path class="d" d="M60 115 L30 250 L0 400"/>
<path class="d" d="M760 560 L800 570"/>
</g>
<g transform="translate(650,500) scale(0.125)">
<path class="d2" d="M345 0 L350 300 L347 600"/>
<path class="d2" d="M345 600 Q372 620 375 700 L360 800"/>
<path class="d" d="M295 0 L300 200 L305 450 L295 600 L280 800"/>
<path class="ld" d="M490 35 L350 45 L160 68"/>
<path class="ld" d="M495 222 L300 205 L160 193"/>
<path class="ld" d="M460 515 L160 388"/>
<path class="d" d="M150 380 Q190 345 220 370 Q238 400 235 450 L225 600 L200 800"/>
<path class="d" d="M330 620 L300 800"/>
<path class="d" d="M352 625 L322 800"/>
</g>
<g transform="translate(680,400) scale(0.125)">
<path class="d2" d="M55 120 L75 400 L95 650 L105 800"/>
<path class="d" d="M62 108 L0 185"/>
<path class="d" d="M0 300 Q18 305 18 350 L25 450 L40 620 L50 800"/>
<path class="ld" d="M230 310 L0 495"/>
<path class="ld" d="M265 645 L0 725"/>
</g>
<g transform="translate(680,560) scale(0.125)">
<path class="d2" d="M120 320 L90 470 L50 600 L0 720"/>
<path class="d" d="M33 320 L0 450"/>
<path class="d" d="M72 320 L40 440 L0 560"/>
</g>
<g transform="translate(80,400) scale(0.125)">
<path class="d2" d="M135 155 L105 480 L75 800"/>
<path class="d" d="M120 108 L265 270 L300 285"/>
<path class="d" d="M250 118 L310 215 L305 262 L560 310 L800 330"/>
<path class="d" d="M790 437 L560 395 L300 320 L205 282 Q175 295 168 380 L140 800"/>
<path class="d" d="M345 385 L320 640 L310 800"/>
<path class="d" d="M365 575 L410 610 L500 608 L800 505"/>
<path class="d" d="M325 635 L360 665 L430 665 L800 530"/>
<path class="d" d="M325 650 L360 705 L600 705 L680 670 L800 655"/>
<path class="d" d="M555 705 L560 800"/>
<path class="ds" d="M600 100 H715 V390 L670 490 H570 L555 460 V210 Z"/>
<path class="dg" d="M560 213 H660 L665 400"/>
<path class="ld" d="M500 18 L595 130"/>
</g>
<g transform="translate(80,500) scale(0.125)">
<path class="d2" d="M72 0 L65 300 L75 600"/>
<path class="d2" d="M75 610 L50 630 L48 690 L65 800"/>
<path class="d" d="M80 620 L100 720 L110 800"/>
<path class="d" d="M130 0 L120 300 L122 600 L150 800"/>
<path class="d" d="M305 0 L290 200 L283 315 L283 395"/>
<path class="d" d="M283 315 L330 315 L355 215 L360 188 L420 188 L428 200 L428 320 L460 325 L480 345 L490 375 L475 440 L600 550 L680 690 L720 800"/>
<circle class="d" cx="383" cy="228" r="22"/>
<circle class="d" cx="383" cy="228" r="11"/>
<circle class="d" cx="555" cy="445" r="38"/>
<path class="d" d="M560 0 L570 100 L485 190 L485 310 L600 380 L700 490 L760 580 L800 640"/>
<path class="d" d="M215 800 L195 550 L190 400 L200 365 L240 358 L283 395 L400 520 L500 680 L570 800"/>
</g>
<g transform="translate(80,600) scale(0.125)">
<path class="d2" d="M65 0 L100 150 L150 320 L230 500 L320 670 L410 800"/>
<path class="d" d="M105 0 L150 180 L210 330 L280 480 L340 590 L430 700 L520 800"/>
<path class="d" d="M145 0 L190 200 L230 350 L290 500 L360 600 L470 700 L640 800"/>
<path class="d" d="M220 0 L250 200 L280 400 L310 530 L370 620"/>
<path class="d" d="M570 0 L680 230 L800 520"/>
<path class="d" d="M720 0 L800 170"/>
</g>
<g transform="translate(80,700) scale(0.125)">
<path class="d2" d="M410 0 L480 100 L560 200 L660 290 L800 385"/>
<path class="d" d="M520 0 L640 80 L800 155"/>
<path class="d" d="M640 0 L800 65"/>
</g>

</g>
<g id="labels" transform="translate(0,-0.9)">
<text class="lb" x="518" y="266">11</text>
<text class="lb" x="442.5" y="356">J</text>
<text class="lb" x="450.5" y="445.5">D</text>
<text class="lb" x="219" y="326">n</text>
<text class="lb" x="344" y="321.5">B</text>
<text class="lb" x="357.5" y="351.5">e</text>
<text class="lb" x="189.5" y="390">I</text>
<text class="lb" x="355.3" y="391.5">E</text>
<text class="lb" x="240.8" y="422">3</text>
<text class="lb" x="138.8" y="398.6">H</text>
<text class="lb" x="659.0" y="398.6">G</text>
<text class="lb" x="197.5" y="442.3">K</text>
<text class="lb" x="313.8" y="443.6">9</text>
<text class="lb" x="337.0" y="446.6">b</text>
<text class="lb" x="402.0" y="489.2">1</text>
<text class="lb" x="470.6" y="486.1">2</text>
<text class="lb" x="559.8" y="430.6">f</text>
<text class="lb" x="582.0" y="423.6">k</text>
<text class="lb" x="569.8" y="493.0">C</text>
<text class="lb" x="713.8" y="437.6">l</text>
<text class="lb" x="719.4" y="483.2">m</text>
<text class="lb" x="716.0" y="505.6">i</text>
<text class="lb" x="718.0" y="531.2">c</text>
<text class="lb" x="714.4" y="570.6">F</text>
<text class="lb" x="281.0" y="505.0">a</text>
<text class="lb" x="466.0" y="531.7">g</text>
<text class="lb" x="469.0" y="550.6">d</text>
<text class="lb" x="366.0" y="620.6">h</text>
<text class="lb" x="447.0" y="636.6">8</text>
<text class="lb" x="474.4" y="633.6">4</text>
<text class="lb" x="482.5" y="608.6">6</text>
<text class="lb" x="182.0" y="610.4">j</text>
<text class="lb" x="233.0" y="684.6">10</text>
<text class="lb" x="282.0" y="694.6">12</text>
<text class="lb" x="300.6" y="761.1">5-1</text>
<text class="lb" x="416.0" y="731.1">5</text>
<text class="lb" x="518.0" y="722.6">7</text>
<text class="lb" x="695.0" y="690.6">A</text>
</g>
</svg>
</body>
</html>
